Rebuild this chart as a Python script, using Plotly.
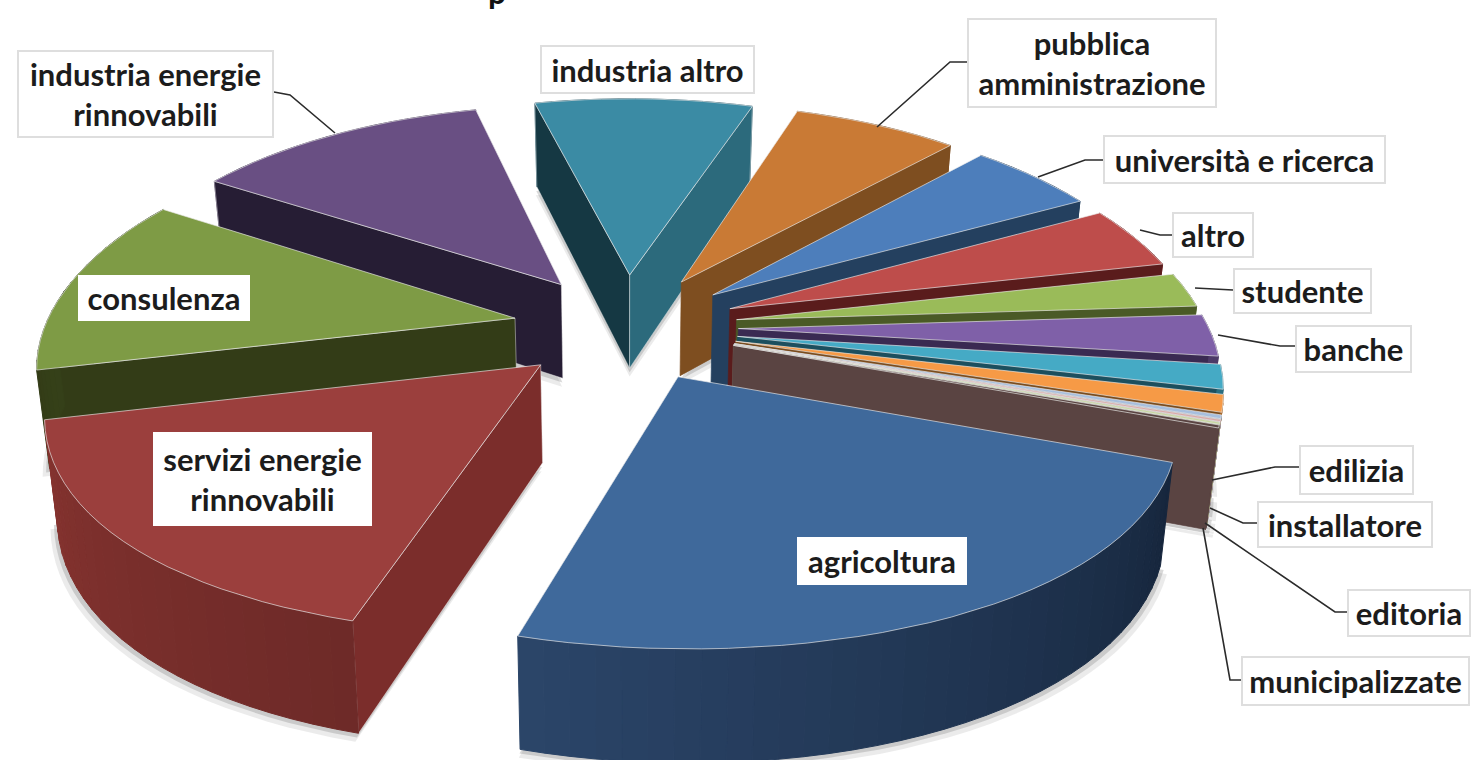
import math
import plotly.graph_objects as go

# ---- data (share of respondents, %) ----
sectors = ["agricoltura", "servizi energie rinnovabili", "consulenza", "industria energie rinnovabili",
           "industria altro", "pubblica amministrazione", "università e ricerca", "altro", "studente",
           "banche", "cyan", "arancio", "edilizia", "installatore", "editoria", "municipalizzate"]
shares = [24.15, 16.75, 12.55, 12.2, 9.1, 6.85, 5.25, 4.4, 2.4, 2.9, 1.7, 1.2, 0.25, 0.15, 0.15, 0.2]

# ---- styling ----
top_col = ["#3f699b", "#9b3f3d", "#7e9b45", "#694f83", "#3b8ba4", "#c97a35", "#4d7ebb", "#be4d4b",
           "#9abb59", "#7f60a8", "#45aac5", "#f69a46", "#a7bfde", "#d9a9a7", "#c5d6a0", "#5a4442"]
wall_a = ["#1a2d47", "#7b2d2b", "#333c17", "#261d34", "#153843", "#7e4e20", "#24405f", "#5a1c1c",
          "#4a5a26", "#3a2a52", "#1c4f5e", "#7a4c1e", "#7d8ea6", "#a07c7b", "#8f9c74", "#5a4442"]
wall_b = ["#1a2d47", "#7b2d2b", "#333c17", "#261d34", "#2c6a7c", "#7e4e20", "#24405f", "#5a1c1c",
          "#4a5a26", "#3a2a52", "#1c4f5e", "#7a4c1e", "#7d8ea6", "#a07c7b", "#8f9c74", "#5a4442"]
outer_from = ["#16263c", "#6e2a28", "#333c17", "#3d2e50", "#1f5566", "#7e4e20", "#24405f", "#7a2827",
              "#5f7436", "#4d3a68", "#2a6e80", "#a8682b", "#8c9fb8", "#b89090", "#a0ad84", "#5a4442"]
outer_to = ["#2b4569", "#85332f", "#3a4a1c", "#3d2e50", "#1f5566", "#7e4e20", "#24405f", "#7a2827",
            "#5f7436", "#4d3a68", "#2a6e80", "#a8682b", "#8c9fb8", "#b89090", "#a0ad84", "#5a4442"]

START_DEG = 20.0
EXPLODE = 0.24
CX, CY, RX, RY0, RY1, PERSP, DEPTH, CONV = 625.5, 327, 470, 225, 33, 0.18, 96, 0.022
EDGE = "rgba(235,235,235,0.65)"


def project(u, v, low=False):
    s = 1 / (1 - PERSP * v)
    x = CX + RX * u * s
    y = CY + v * (RY0 + RY1 * v)
    if low:
        x = CX + (x - CX) * (1 - CONV)
        y += DEPTH * s ** 0.7
    return x, y


def mix(a, b, t):
    ca = [int(a[i:i + 2], 16) for i in (1, 3, 5)]
    cb = [int(b[i:i + 2], 16) for i in (1, 3, 5)]
    return "rgb(%d,%d,%d)" % tuple(round(p + (q - p) * t) for p, q in zip(ca, cb))


fig = go.Figure()


def poly(pts, fill, line=None, width=1, text=None):
    xs = [p[0] for p in pts] + [pts[0][0]]
    ys = [p[1] for p in pts] + [pts[0][1]]
    fig.add_trace(go.Scatter(x=xs, y=ys, mode="lines", fill="toself", fillcolor=fill,
                             line=dict(color=line or fill, width=width),
                             hoverinfo="text" if text else "skip", text=text, showlegend=False))


total = sum(shares)
slices = []
acc = START_DEG
for i, val in enumerate(shares):
    span = val / total * 360
    slices.append((math.sin(math.radians(acc + span / 2)), i, acc, span))
    acc += span
slices.sort()


def geometry(a0, span):
    mid = math.radians(a0 + span / 2)
    ox, oy = EXPLODE * math.cos(mid), EXPLODE * math.sin(mid)
    steps = max(2, int(span / 2.5))
    angs = [math.radians(a0 + span * k / steps) for k in range(steps + 1)]
    rim = [(ox + math.cos(a), oy + math.sin(a)) for a in angs]
    return ox, oy, steps, angs, rim


# soft drop shadow below the solid
for grow, alpha in ((1.012, 0.14), (1.006, 0.26)):
    for _, i, a0, span in slices:
        ox, oy, steps, angs, rim = geometry(a0, span)
        pts = [project(ox, oy, True)] + [project(*p, True) for p in rim]
        poly([(CX + (x - CX) * grow, y + (grow - 1) * 700) for x, y in pts],
             "rgba(110,110,110,%.2f)" % alpha, "rgba(0,0,0,0)", 0)

for _, i, a0, span in slices:
    ox, oy, steps, angs, rim = geometry(a0, span)
    apex_t, apex_b = project(ox, oy), project(ox, oy, True)
    top = [project(*p) for p in rim]
    low = [project(*p, True) for p in rim]

    def bands(back):
        for k in range(steps):
            if (math.sin(angs[k]) < 0) == back:
                c = mix(outer_from[i], outer_to[i], (k + .5) / steps)
                poly([top[k], top[k + 1], low[k + 1], low[k]], c)

    bands(True)
    # a cut face is only drawn when it turns towards the viewer
    if math.sin(math.radians(a0 - 90)) > 0:
        poly([apex_t, top[0], low[0], apex_b], wall_a[i], EDGE if i < 5 else None, 0.7)
    if math.sin(math.radians(a0 + span + 90)) > 0:
        poly([apex_t, top[-1], low[-1], apex_b], wall_b[i], EDGE if i < 5 else None, 0.7)
    bands(False)
    poly([apex_t] + top, top_col[i], EDGE, 1, text="%s: %.1f%%" % (sectors[i], shares[i]))

boxes = [
    ("industria energie<br>rinnovabili", 17, 50, 274, 138, True),
    ("industria altro", 540, 45, 755, 94, True),
    ("pubblica<br>amministrazione", 967, 18, 1217, 108, True),
    ("università e ricerca", 1103, 135, 1386, 184, True),
    ("altro", 1172, 212, 1254, 258, True),
    ("studente", 1233, 268, 1372, 314, True),
    ("banche", 1295, 325, 1412, 373, True),
    ("edilizia", 1299, 445, 1414, 495, True),
    ("installatore", 1257, 501, 1433, 548, True),
    ("editoria", 1347, 589, 1471, 637, True),
    ("municipalizzate", 1241, 656, 1470, 706, True),
    ("consulenza", 78, 275, 250, 321, False),
    ("servizi energie<br>rinnovabili", 153, 432, 372, 526, False),
    ("agricoltura", 797, 537, 967, 585, False),
]
leaders = [
    [(274, 92), (290, 95), (335, 133)],
    [(967, 62), (950, 62), (877, 127)],
    [(1103, 160), (1085, 160), (1038, 177)],
    [(1172, 235), (1160, 235), (1140, 230)],
    [(1233, 290), (1195, 288)],
    [(1295, 346), (1280, 346), (1218, 335)],
    [(1299, 467), (1275, 467), (1212, 480)],
    [(1257, 523), (1243, 523), (1210, 508)],
    [(1347, 612), (1335, 612), (1205, 523)],
    [(1241, 680), (1230, 680), (1203, 528)],
]
for path in leaders:
    fig.add_trace(go.Scatter(x=[p[0] for p in path], y=[p[1] for p in path], mode="lines",
                             line=dict(color="#2b2b2b", width=1.6), hoverinfo="skip", showlegend=False))

anns = []
for text, x0, y0, x1, y1, framed in boxes:
    anns.append(dict(x=(x0 + x1) / 2, y=(y0 + y1) / 2, xref="x", yref="y", text=text, showarrow=False,
                     width=x1 - x0 - 4, height=y1 - y0 - 4, bgcolor="white",
                     bordercolor="#dedede" if framed else "white", borderwidth=2, borderpad=0,
                     align="center", valign="middle",
                     font=dict(family="Lato", size=31, color="#1c1c1c", weight=700)))
anns.append(dict(x=497 / 1471, y=1, xref="paper", yref="paper", xanchor="center", yanchor="bottom",
                 yshift=-12, text="p", showarrow=False, borderpad=0,
                 font=dict(family="Lato", size=32, color="#111111", weight=700)))

fig.update_layout(
    width=1471, height=760, margin=dict(l=0, r=0, t=0, b=0),
    paper_bgcolor="white", plot_bgcolor="white", showlegend=False, annotations=anns,
    xaxis=dict(range=[0, 1471], visible=False, fixedrange=True),
    yaxis=dict(range=[760, 0], visible=False, fixedrange=True),
)
fig.write_html("out.html", post_script="document.body.style.margin='0';",
               config=dict(displayModeBar=False))
